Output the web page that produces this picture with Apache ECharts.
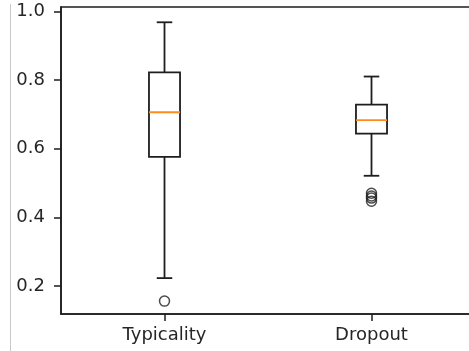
<!DOCTYPE html>
<html>
<head>
<meta charset="utf-8">
<script src="https://cdn.jsdelivr.net/npm/echarts@6/dist/echarts.min.js"></script>
<style>
html,body{margin:0;padding:0;background:#fff;}
#chart{width:469px;height:351px;}
</style>
</head>
<body>
<div id="chart"></div>
<script>
const categories = ['Typicality', 'Dropout'];
const whiskerLow = [0.223, 0.521];
const q1 = [0.576, 0.644];
const median = [0.706, 0.683];
const q3 = [0.822, 0.728];
const whiskerHigh = [0.968, 0.810];
const outliersTypicality = [0.156];
const outliersDropout = [0.470, 0.462, 0.456, 0.447];
const yTicks = [0.2, 0.4, 0.6, 0.8, 1.0];

const boxData = categories.map((c, i) => [i, whiskerLow[i], q1[i], median[i], q3[i], whiskerHigh[i]]);
const outlierData = [];
outliersTypicality.forEach(v => outlierData.push([0, v]));
outliersDropout.forEach(v => outlierData.push([1, v]));

const chart = echarts.init(document.getElementById('chart'), null, {renderer: 'canvas'});
const font = 'DejaVu Sans';
const ink = '#1e1e1e';

function renderBox(params, api) {
  const x = api.value(0);
  const band = api.size([1, 0])[0];
  const bw = band * 0.15;
  const cw = bw / 2;
  const pLow = api.coord([x, api.value(1)]);
  const pQ1 = api.coord([x, api.value(2)]);
  const pMed = api.coord([x, api.value(3)]);
  const pQ3 = api.coord([x, api.value(4)]);
  const pHigh = api.coord([x, api.value(5)]);
  const cx = pQ1[0];
  const lineStyle = {stroke: ink, lineWidth: 1.8, fill: null};
  return {
    type: 'group',
    children: [
      {type: 'rect', shape: {x: cx - bw / 2, y: pQ3[1], width: bw, height: pQ1[1] - pQ3[1]}, style: {stroke: ink, lineWidth: 1.8, fill: 'none'}},
      {type: 'line', shape: {x1: cx, y1: pQ1[1], x2: cx, y2: pLow[1]}, style: lineStyle},
      {type: 'line', shape: {x1: cx, y1: pQ3[1], x2: cx, y2: pHigh[1]}, style: lineStyle},
      {type: 'line', shape: {x1: cx - cw / 2, y1: pLow[1], x2: cx + cw / 2, y2: pLow[1]}, style: lineStyle},
      {type: 'line', shape: {x1: cx - cw / 2, y1: pHigh[1], x2: cx + cw / 2, y2: pHigh[1]}, style: lineStyle},
      {type: 'line', shape: {x1: cx - bw / 2, y1: pMed[1], x2: cx + bw / 2, y2: pMed[1]}, style: {stroke: '#ff8c1a', lineWidth: 1.8}}
    ]
  };
}

chart.setOption({
  animation: false,
  backgroundColor: '#fff',
  grid: {left: 61, top: 7, width: 414, height: 307, outerBoundsMode: 'none', containLabel: false, show: true, borderColor: ink, borderWidth: 1.6, backgroundColor: 'transparent'},
  xAxis: {
    type: 'category',
    data: categories,
    boundaryGap: true,
    axisLine: {show: true, lineStyle: {color: ink, width: 1.6}},
    axisTick: {show: true, alignWithLabel: true, length: 7, lineStyle: {color: ink, width: 1.5}},
    axisLabel: {color: '#262626', fontFamily: font, fontSize: 18, margin: 12},
    splitLine: {show: false}
  },
  yAxis: {
    type: 'value',
    min: 0.1185,
    max: 1.0125,
    axisLine: {show: true, lineStyle: {color: ink, width: 1.6}},
    axisTick: {show: true, length: 7, customValues: yTicks, lineStyle: {color: ink, width: 1.5}},
    axisLabel: {color: '#262626', fontFamily: font, fontSize: 18, margin: 16, customValues: yTicks, formatter: v => v.toFixed(1)},
    splitLine: {show: false}
  },
  graphic: [
    {type: 'line', shape: {x1: 10.5, y1: 4, x2: 10.5, y2: 351}, style: {stroke: '#c8c8c8', lineWidth: 1}}
  ],
  series: [
    {type: 'custom', data: boxData, renderItem: renderBox, encode: {x: 0, y: [1, 2, 3, 4, 5]}, z: 3},
    {type: 'scatter', data: outlierData, symbol: 'circle', symbolSize: 10, itemStyle: {color: 'transparent', borderColor: ink, borderWidth: 1.5}, z: 4}
  ]
});
</script>
</body>
</html>
